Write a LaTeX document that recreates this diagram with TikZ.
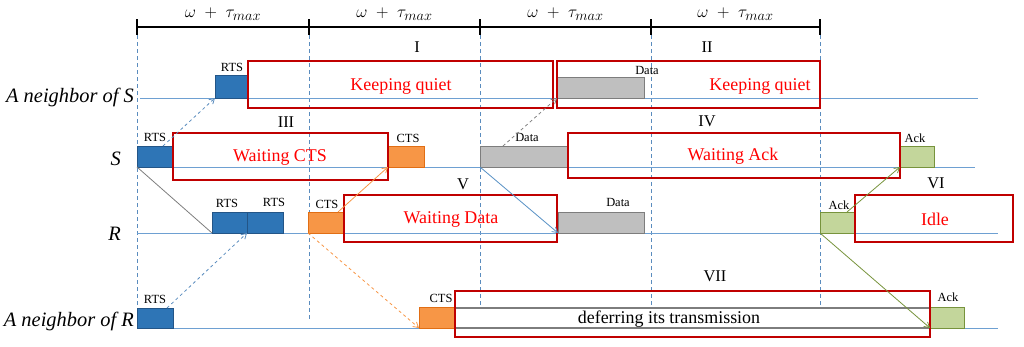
\documentclass[tikz,border=0pt]{standalone}
\usepackage{fontspec}
\setmainfont{Liberation Serif}
\usetikzlibrary{arrows.meta,calc}
\definecolor{rowline}{RGB}{110,160,210}
\definecolor{vdash}{RGB}{90,140,190}
\definecolor{bfill}{RGB}{46,117,182}
\definecolor{bdraw}{RGB}{35,85,135}
\definecolor{ofill}{RGB}{247,150,70}
\definecolor{odraw}{RGB}{225,110,20}
\definecolor{gfill}{RGB}{191,191,191}
\definecolor{gdraw}{RGB}{125,125,125}
\definecolor{grfill}{RGB}{195,214,155}
\definecolor{grdraw}{RGB}{119,147,60}
\definecolor{boxred}{RGB}{192,0,0}
\definecolor{txtred}{RGB}{255,0,0}
\tikzset{
  pkt/.style={rectangle, inner sep=0pt, outer sep=0pt, line width=1bp, anchor=south west},
  rtsbox/.style={pkt, fill=bfill, draw=bdraw},
  ctsbox/.style={pkt, fill=ofill, draw=odraw},
  databox/.style={pkt, fill=gfill, draw=gdraw},
  ackbox/.style={pkt, fill=grfill, draw=grdraw},
  stbox/.style={rectangle, draw=boxred, line width=1.8bp, inner sep=0pt, outer sep=0pt, anchor=north west},
  sttext/.style={text=txtred, font=\fontsize{18}{20}\selectfont, inner sep=0pt},
  plabel/.style={font=\fontsize{12.5}{14}\selectfont, inner sep=0pt},
  roman/.style={font=\fontsize{16.5}{18}\selectfont, inner sep=0pt},
  rowname/.style={font=\fontsize{20.5}{23}\selectfont\itshape, inner sep=0pt, anchor=base east},
  rowln/.style={draw=rowline, line width=0.9bp},
  vline/.style={draw=vdash, line width=0.8bp, dash pattern=on 4bp off 3bp},
  tip/.style={-{Straight Barb[length=5bp,width=6bp]}},
}
\begin{document}
\begin{tikzpicture}[x=1bp,y=-1bp]
\useasboundingbox (0,0) rectangle (1024,346);
% timeline
\coordinate (t0) at (137,27);
\coordinate (t1) at (309,27);
\coordinate (t2) at (480,27);
\coordinate (t3) at (651,27);
\coordinate (t4) at (820,27);
\draw[line width=1.6bp] (t0) -- (t4);
\foreach \t in {t0,t1,t2,t3,t4} \draw[line width=1.6bp] ([yshift=8bp]\t) -- ([yshift=-8bp]\t);
\foreach \a/\b/\n in {t0/t1/ta,t1/t2/tb,t2/t3/tc,t3/t4/td}
  \node[font=\fontsize{19}{22}\selectfont, inner sep=0pt] (\n) at ($ (\a)!0.5!(\b) $) [yshift=13bp] {$\omega\;+\;\tau_{max}$};
% vertical dashed lines
\coordinate (v0) at (137,310);
\coordinate (v1) at (309,322);
\coordinate (v2) at (480,305);
\coordinate (v3) at (651,308);
\coordinate (v4) at (820,308);
\foreach \i in {0,...,4} \draw[vline] ([yshift=-8bp]t\i) -- (v\i);
% row lines
\coordinate (ns0) at (140,98);  \coordinate (ns1) at (978,98);
\coordinate (s0) at (137,167);  \coordinate (s1) at (975,167);
\coordinate (r0) at (137,233);  \coordinate (r1) at (998,233);
\coordinate (nr0) at (137,328); \coordinate (nr1) at (998,328);
\draw[rowln] (ns0) -- (ns1);
\draw[rowln] (s0) -- (s1);
\draw[rowln] (r0) -- (r1);
\draw[rowln] (nr0) -- (nr1);
% row names
\node[rowname] (nmns) at (134,102) {A neighbor of S};
\node[rowname] (nms) at (121,165) {S};
\node[rowname] (nmr) at (121,240) {R};
\node[rowname] (nmnr) at (134,326) {A neighbor of R};
% packets: neighbor of S
\node[rtsbox, minimum width=33bp, minimum height=23bp] (nsrts) at (215,98) {};
\node[databox, minimum width=87bp, minimum height=21bp] (nsdata) at (557,98) {};
% S
\node[rtsbox, minimum width=35bp, minimum height=21bp] (srts) at (137,167) {};
\node[ctsbox, minimum width=36bp, minimum height=21bp] (scts) at (388,167) {};
\node[databox, minimum width=88bp, minimum height=21bp] (sdata) at (480,167) {};
\node[ackbox, minimum width=34bp, minimum height=21bp] (sack) at (900,167) {};
% R
\node[rtsbox, minimum width=35bp, minimum height=21bp] (rrts1) at (212,233) {};
\node[rtsbox, minimum width=36bp, minimum height=21bp] (rrts2) at (247,233) {};
\node[ctsbox, minimum width=36bp, minimum height=21bp] (rcts) at (308,233) {};
\node[databox, minimum width=86bp, minimum height=21bp] (rdata) at (558,233) {};
\node[ackbox, minimum width=35bp, minimum height=21bp] (rack) at (820,233) {};
% neighbor of R
\node[rtsbox, minimum width=36bp, minimum height=20bp] (nrrts) at (137,328) {};
\node[ctsbox, minimum width=36bp, minimum height=21bp] (nrcts) at (419,328) {};
\node[pkt, fill=white, draw=gdraw, line width=1.2bp, minimum width=475bp, minimum height=20bp] (defer) at (455,328) {};
\node[ackbox, minimum width=34bp, minimum height=21bp] (nrack) at (930,328) {};
\node[font=\fontsize{18}{20}\selectfont, inner sep=0pt] (defert) at (669,319) {deferring its transmission};
% packet labels
\node[plabel] (lnsrts) at (232,67) {RTS};
\node[plabel] (lnsdata) at (647,70) {Data};
\node[plabel] (lsrts) at (155,137) {RTS};
\node[plabel] (lscts) at (408,138) {CTS};
\node[plabel] (lsdata) at (527,137) {Data};
\node[plabel] (lsack) at (915,138) {Ack};
\node[plabel] (lrrts1) at (227,203) {RTS};
\node[plabel] (lrrts2) at (274,202) {RTS};
\node[plabel] (lrcts) at (327,204) {CTS};
\node[plabel] (lrdata) at (618,202) {Data};
\node[plabel] (lrack) at (839,205) {Ack};
\node[plabel] (lnrrts) at (155,299) {RTS};
\node[plabel] (lnrcts) at (441,298) {CTS};
\node[plabel] (lnrack) at (948,297) {Ack};
% state boxes
\node[stbox, minimum width=305bp, minimum height=47bp] (b1) at (248,61) {};
\node[stbox, minimum width=263bp, minimum height=47bp] (b2) at (557,61) {};
\node[stbox, minimum width=215bp, minimum height=47bp] (b3) at (173,133) {};
\node[stbox, minimum width=332bp, minimum height=45bp] (b4) at (568,133) {};
\node[stbox, minimum width=213bp, minimum height=47bp] (b5) at (344,195) {};
\node[stbox, minimum width=158bp, minimum height=47bp] (b6) at (855,195) {};
\node[stbox, minimum width=475bp, minimum height=46bp] (b7) at (455,291) {};
\node[sttext] (t1txt) at (401,86) {Keeping quiet};
\node[sttext] (t2txt) at (760,86) {Keeping quiet};
\node[sttext] (t3txt) at (280,157) {Waiting CTS};
\node[sttext] (t4txt) at (733,156) {Waiting Ack};
\node[sttext] (t5txt) at (451,219) {Waiting Data};
\node[sttext] (t6txt) at (935,219) {Idle};
% roman numerals
\node[roman] (r1n) at (417,47) {I};
\node[roman] (r2n) at (707,47) {II};
\node[roman] (r3n) at (286,122) {III};
\node[roman] (r4n) at (707,121) {IV};
\node[roman] (r5n) at (463,184) {V};
\node[roman] (r6n) at (936,183) {VI};
\node[roman] (r7n) at (715,276) {VII};
% connectors
\draw[tip, vdash, dashed, line width=0.8bp] ([xshift=-6bp]nrrts.north east) -- (rrts2.south west);
\draw[tip, vdash, dashed, line width=0.8bp] ([xshift=-9bp]srts.north east) -- (nsrts.south west);
\draw[gdraw, line width=0.8bp] (srts.south west) -- (rrts1.south west);
\draw[tip, ofill, line width=0.8bp] ([xshift=-6bp]rcts.north east) -- (scts.south west);
\draw[tip, ofill, dashed, line width=0.8bp] (rcts.south west) -- (nrcts.south west);
\draw[tip, bfill!80!white, line width=0.8bp] (sdata.south west) -- (rdata.south west);
\draw[tip, gdraw, dashed, line width=0.8bp] ([xshift=23bp]sdata.north west) -- (nsdata.south west);
\draw[tip, grdraw, line width=0.8bp] ([xshift=-8bp]rack.north east) -- (sack.south west);
\draw[tip, grdraw, line width=0.8bp] (rack.south west) -- (nrack.south west);
\end{tikzpicture}
\end{document}
